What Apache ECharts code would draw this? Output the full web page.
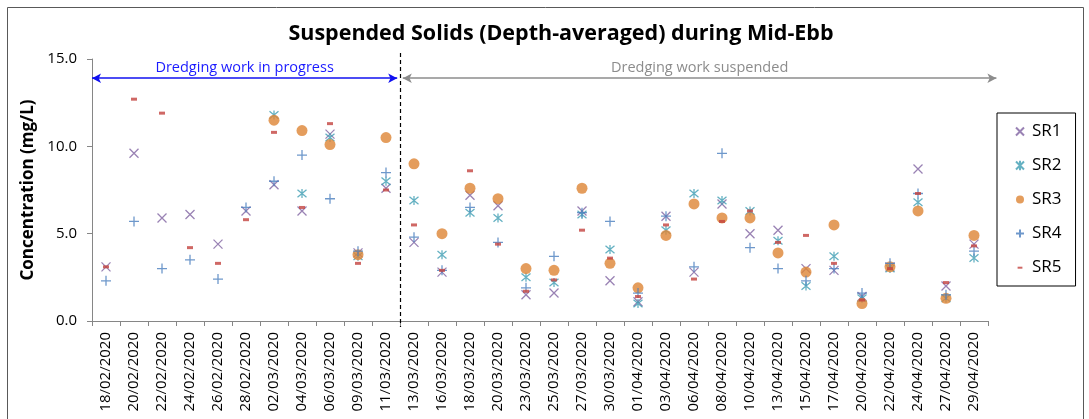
<!DOCTYPE html>
<html>
<head>
<meta charset="utf-8">
<script src="https://cdn.jsdelivr.net/npm/echarts@6/dist/echarts.min.js"></script>
<style>html,body{margin:0;padding:0;background:#fff}#c{width:1089px;height:419px}</style>
</head>
<body>
<div id="c"></div>
<script>
const categories = ['18/02/2020','20/02/2020','22/02/2020','24/02/2020','26/02/2020','28/02/2020','02/03/2020','04/03/2020','06/03/2020','09/03/2020','11/03/2020','13/03/2020','16/03/2020','18/03/2020','20/03/2020','23/03/2020','25/03/2020','27/03/2020','30/03/2020','01/04/2020','03/04/2020','06/04/2020','08/04/2020','10/04/2020','13/04/2020','15/04/2020','17/04/2020','20/04/2020','22/04/2020','24/04/2020','27/04/2020','29/04/2020'];
const SR1 = [3.1,9.6,5.9,6.1,4.4,6.3,7.8,6.3,10.7,3.9,7.6,4.5,2.8,7.2,6.6,1.5,1.6,6.3,2.3,1.1,6.0,2.8,6.7,5.0,5.2,3.0,2.9,1.4,3.1,8.7,2.0,4.4];
const SR2 = [null,null,null,null,null,null,11.8,7.3,10.5,3.7,8.0,6.9,3.8,6.2,5.9,2.5,2.2,6.1,4.1,1.0,5.2,7.3,6.9,6.3,4.6,2.0,3.7,1.3,3.0,6.8,1.3,3.6];
const SR3 = [null,null,null,null,null,null,11.5,10.9,10.1,3.8,10.5,9.0,5.0,7.6,7.0,3.0,2.9,7.6,3.3,1.9,4.9,6.7,5.9,5.9,3.9,2.8,5.5,1.0,3.1,6.3,1.3,4.9];
const SR4 = [2.3,5.7,3.0,3.5,2.4,6.5,8.0,9.5,7.0,4.0,8.5,4.8,2.9,6.5,4.5,1.9,3.7,6.2,5.7,1.6,6.0,3.1,9.6,4.2,3.0,2.3,3.0,1.6,3.3,7.3,1.5,4.0];
const SR5 = [3.1,12.7,11.9,4.2,3.3,5.8,10.8,6.5,11.3,3.3,7.5,5.5,2.9,8.6,4.4,1.7,2.35,5.2,3.6,1.4,5.5,2.4,5.7,6.3,4.5,4.9,3.3,1.2,3.0,7.3,2.2,4.3];
const yTicks = [0, 5, 10, 15];
const seriesNames = ['SR1','SR2','SR3','SR4','SR5'];

const colors = ['#7F63A1','#3E9DB3','#DD8434','#4A7EBE','#C3423F'];
const symbols = [
  'path://M0,0L10,10M10,0L0,10',
  'path://M0,0L10,10M10,0L0,10M5,-1L5,11',
  'circle',
  'path://M5,0L5,10M0,5L10,5',
  'rect'
];
const legendIcons = [
  'path://M0,0L10,10M10,0L0,10',
  'path://M0,0L10,10M10,0L0,10M5,-1L5,11',
  'circle',
  'path://M5,0L5,10M0,5L10,5',
  'path://M0,0M10,10M2,4L8,4L8,6.5L2,6.5Z'
];
const sizes = [9, 9, 11, 10, [6,3]];
const stroked = [true, true, false, true, false];
const data = [SR1, SR2, SR3, SR4, SR5];

const FONT = 'Open Sans';
const chart = echarts.init(document.getElementById('c'), null, {renderer: 'canvas'});

const series = seriesNames.map((n, i) => ({
  name: n,
  type: 'scatter',
  xAxisIndex: 0, yAxisIndex: 0,
  data: data[i],
  symbol: symbols[i],
  symbolSize: sizes[i],
  itemStyle: stroked[i]
    ? {color: 'rgba(0,0,0,0)', borderColor: colors[i], borderWidth: 1.3}
    : {color: colors[i]},
  emphasis: {disabled: true},
  z: 3 + i
}));

series.push({
  name: 'anno',
  type: 'scatter',
  xAxisIndex: 1, yAxisIndex: 1,
  data: [],
  silent: true,
  clip: false,
  markLine: {
    silent: true,
    animation: false,
    precision: 4,
    data: [
      [{coord: [0, 13.9], symbol: 'arrow', symbolSize: [7, 9],
        lineStyle: {color: '#1010F0', width: 1.5, type: 'solid'},
        label: {show: true, position: 'middle', formatter: 'Dredging work in progress', color: '#1a1aff', fontFamily: FONT, fontSize: 14.5, distance: 3}},
       {coord: [10.9, 13.9], symbol: 'arrow', symbolSize: [7, 9]}],
      [{coord: [11.1, 13.9], symbol: 'arrow', symbolSize: [7, 9],
        lineStyle: {color: '#8c8c8c', width: 1.5, type: 'solid'},
        label: {show: true, position: 'middle', formatter: 'Dredging work suspended', color: '#8c8c8c', fontFamily: FONT, fontSize: 14.5, distance: 3}},
       {coord: [32.3, 13.9], symbol: 'arrow', symbolSize: [7, 9]}],
      [{coord: [11, 15.35], symbol: 'none',
        lineStyle: {color: '#000', width: 1.2, type: [4, 3]},
        label: {show: false}},
       {coord: [11, -0.35], symbol: 'none'}]
    ]
  }
});

chart.setOption({
  animation: false,
  backgroundColor: '#fff',
  title: {
    text: 'Suspended Solids (Depth-averaged) during Mid-Ebb',
    left: 556, top: 18, textAlign: 'center',
    textStyle: {fontFamily: FONT, fontWeight: 'bold', fontSize: 21.5, color: '#000'}
  },
  legend: {
    orient: 'vertical',
    left: 997, top: 113,
    padding: [10, 14, 10, 18],
    itemGap: 17,
    itemWidth: 8, itemHeight: 17,
    borderColor: '#000', borderWidth: 1,
    data: seriesNames.map((n, i) => ({name: n, icon: legendIcons[i]})),
    textStyle: {fontFamily: FONT, fontSize: 17, color: '#000', lineHeight: 17, padding: [0,0,0,3]}
  },
  grid: [
    {left: 92, right: 101, top: 59, bottom: 98, containLabel: false},
    {left: 64, right: 73, top: 41.53, bottom: 80.53, containLabel: false}
  ],
  xAxis: [
    {
      type: 'category', gridIndex: 0,
      data: categories,
      boundaryGap: true,
      axisLine: {lineStyle: {color: '#868686', width: 1}},
      axisTick: {show: true, alignWithLabel: false, length: 5, inside: false, lineStyle: {color: '#868686'}},
      axisLabel: {rotate: 90, interval: 0, fontFamily: FONT, fontSize: 15, color: '#000', margin: 11},
      splitLine: {show: false}
    },
    {type: 'value', gridIndex: 1, min: -1, max: 33, show: false}
  ],
  yAxis: [
    {
      type: 'value', gridIndex: 0,
      min: 0, max: 15, interval: 5,
      name: 'Concentration (mg/L)',
      nameLocation: 'middle', nameGap: 54,
      nameTextStyle: {fontFamily: FONT, fontWeight: 'bold', fontSize: 17, color: '#000'},
      axisLine: {show: true, lineStyle: {color: '#868686', width: 1}},
      axisTick: {show: true, length: 5, lineStyle: {color: '#868686'}},
      axisLabel: {formatter: v => yTicks.includes(v) ? v.toFixed(1) : '', fontFamily: FONT, fontSize: 15, color: '#000', margin: 15},
      splitLine: {show: false}
    },
    {type: 'value', gridIndex: 1, min: -1, max: 16, show: false}
  ],
  graphic: [
    {type: 'rect', shape: {x: 7.5, y: 7.5, width: 1076, height: 430}, style: {fill: 'none', stroke: '#595959', lineWidth: 1}, silent: true, z: -1}
  ],
  series: series
});
</script>
</body>
</html>
